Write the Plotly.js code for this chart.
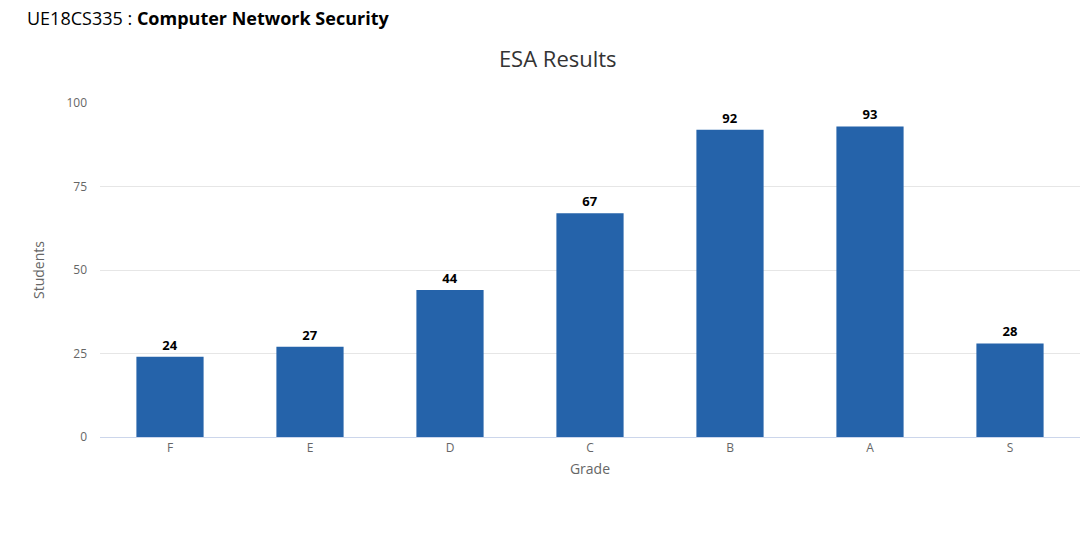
<!DOCTYPE html>
<html><head><script src="https://cdn.plot.ly/plotly-3.0.1.min.js"></script>
<style>body{margin:0}</style></head><body>
<div id="c" style="width:1083px;height:550px"></div>
<script>
const grades = ["F","E","D","C","B","A","S"];
const students = [24,27,44,67,92,93,28];
Plotly.newPlot('c',[{
  type:'bar', x:grades, y:students, text:students.map(String), textposition:'outside',
  cliponaxis:false,
  textfont:{family:'Open Sans',size:13,color:'#000',weight:'bold'},
  marker:{color:'#2563aa'}, hoverinfo:'none'
}],{
  width:1083,height:550,margin:{l:100,r:3,t:103,b:113},
  paper_bgcolor:'#fff',plot_bgcolor:'#fff',bargap:0.52,
  font:{family:'Open Sans',color:'#666'},
  title:{text:'ESA Results',x:0.515,xanchor:'center',y:0.893,yanchor:'middle',font:{size:22,color:'#333'}},
  xaxis:{title:{text:'Grade',font:{size:14,color:'#666'},standoff:8},tickfont:{size:12,color:'#666'},
    showline:true,linecolor:'#ccd6eb',ticks:'',fixedrange:true},
  yaxis:{title:{text:'Students',font:{size:14,color:'#666'},standoff:18},range:[0,100],tickvals:[0,25,50,75,100],
    tickfont:{size:12,color:'#666'},gridcolor:'#e6e6e6',zeroline:false,ticklabelstandoff:12},
  annotations:[{xref:'paper',yref:'paper',x:-0.0765,y:1.254,xanchor:'left',yanchor:'middle',showarrow:false,
    text:'UE18CS335 : <b style="font-weight:500">Computer Network Security</b>',font:{size:18,color:'#000',family:'Open Sans'}}]
},{staticPlot:true});
</script></body></html>
